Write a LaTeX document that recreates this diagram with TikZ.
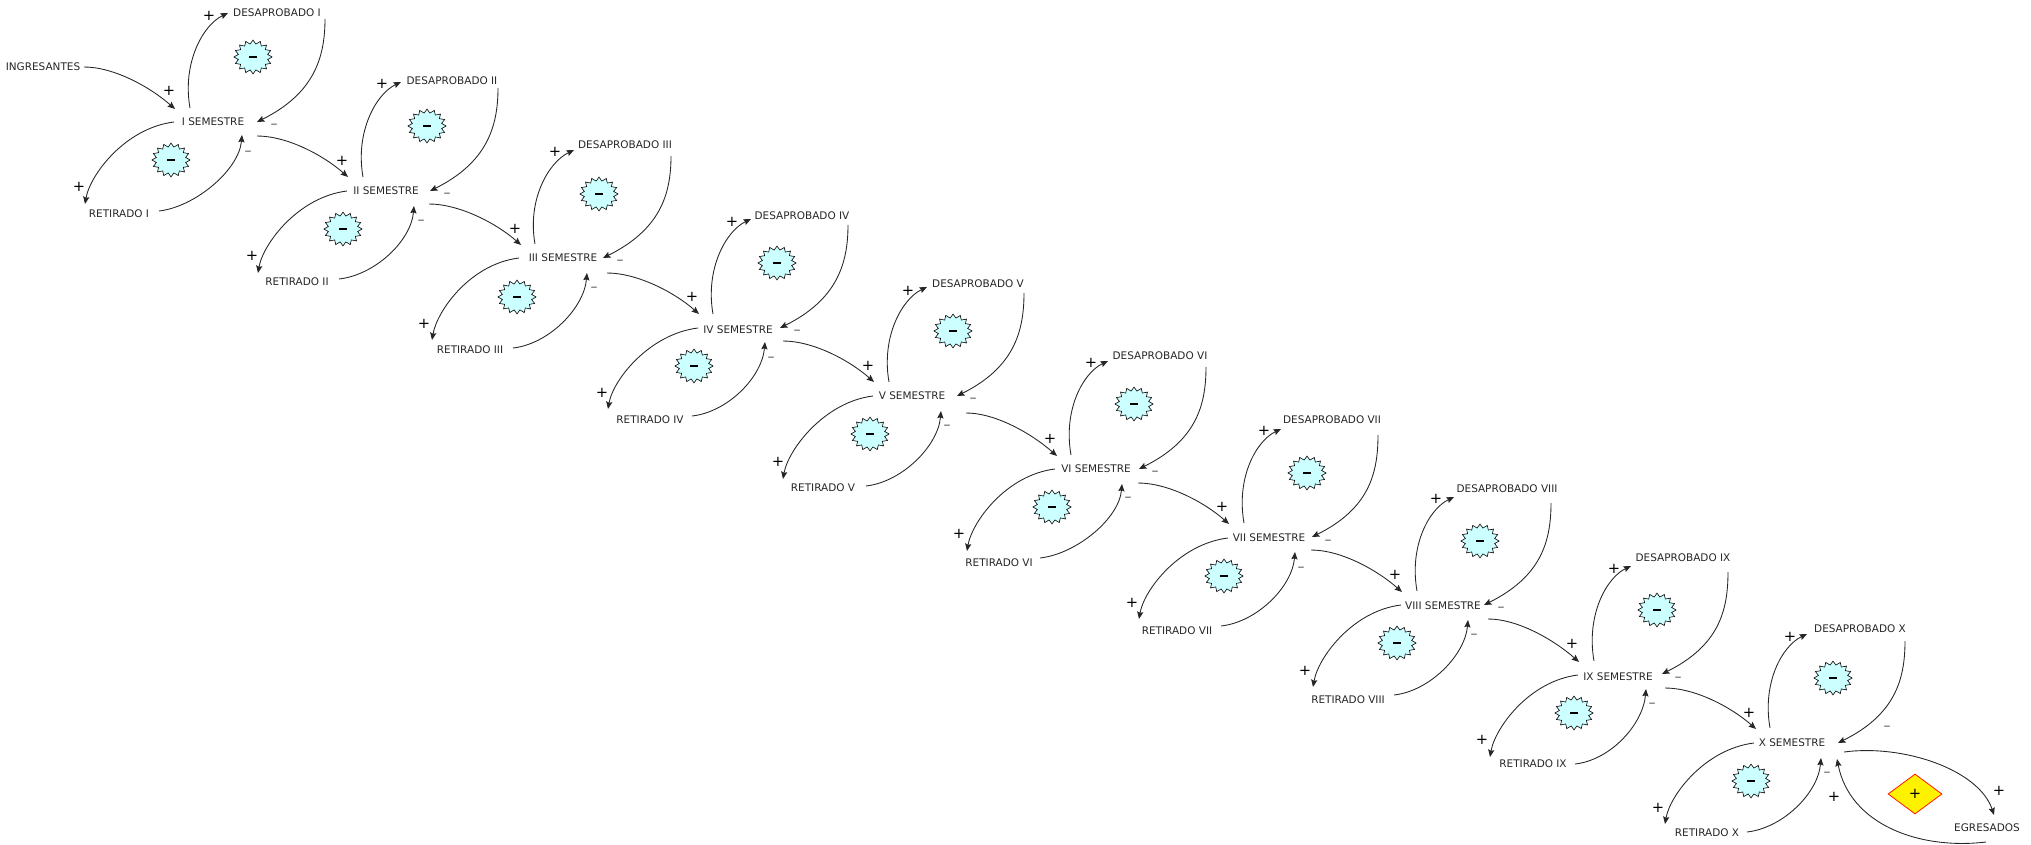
\documentclass[tikz,border=0pt]{standalone}
\usepackage{fontspec}
\setmainfont{DejaVu Sans}
\usetikzlibrary{arrows.meta,shapes.geometric}
\definecolor{starfill}{HTML}{CCFFFF}
\definecolor{inkc}{HTML}{262626}
\definecolor{dimc}{HTML}{555555}
\tikzset{
  lbl/.style={inner sep=0pt,text=inkc,font=\fontsize{7.85pt}{9pt}\selectfont},
  arc/.style={draw=inkc,line width=0.65pt,-{Stealth[length=5.5pt,width=4.6pt,inset=0.8pt]}},
  loopstar/.style={star,star points=16,star point ratio=1.28,minimum size=27.5pt,inner sep=0pt,draw=black,line width=0.45pt,fill=starfill,xscale=1.04,yscale=0.92,transform shape},
  plussign/.style={inner sep=0pt,text=black,font=\fontsize{11pt}{11pt}\selectfont},
  minussign/.style={inner sep=0pt,text=dimc,font=\fontsize{10.5pt}{10.5pt}\selectfont},
  bigdiamond/.style={diamond,aspect=1.35,minimum width=40.5pt,minimum height=30pt,inner sep=0pt,draw=red!80!orange,line width=0.6pt,fill=yellow,font=\fontsize{11pt}{11pt}\selectfont}
}
% #1 index, #2 roman, #3 semester, #4 desaprobado, #5 retirado, #6 star up, #7 star down
\newcommand\mnodes[7]{%
  \node[lbl] (S#1) at (#3) {#2 SEMESTRE};
  \node[lbl] (D#1) at (#4) {DESAPROBADO #2};
  \node[lbl] (R#1) at (#5) {RETIRADO #2};
  \node[loopstar] (A#1) at (#6) {\rule{5.5pt}{1.4pt}};
  \node[loopstar] (B#1) at (#7) {\rule{5.5pt}{1.4pt}};
}
% #1 index, then plus in, plus D, plus R, minus D, minus R
\newcommand\mmarks[6]{%
  \node[plussign] (P#1a) at (#2) {+};
  \node[plussign] (P#1b) at (#3) {+};
  \node[plussign] (P#1c) at (#4) {+};
  \node[minussign] (M#1a) at (#5) {–};
  \node[minussign] (M#1b) at (#6) {–};
}
% #1 index, offsets of the ends of the four arcs
\newcommand\marcs[9]{%
  \draw[arc] ([shift={(#2)}]S#1.center) .. controls +(-8,-45) and +(-25,12) .. ([shift={(#3)}]D#1.center);
  \draw[arc] ([shift={(#4)}]D#1.center) .. controls +(0,40) and +(56,-28) .. ([shift={(#5)}]S#1.center);
  \draw[arc] ([shift={(#6)}]S#1.center) .. controls +(-49,6) and +(5,-29) .. ([shift={(#7)}]R#1.center);
  \draw[arc] ([shift={(#8)}]R#1.center) .. controls +(36,-4) and +(-3,35) .. ([shift={(#9)}]S#1.center);
}
\newcommand\inarc[4]{%
  \draw[arc] ([shift={(#3)}]#1.center) .. controls +(30,0) and +(-25,-22) .. ([shift={(#4)}]#2.center);
}
\begin{document}
\begin{tikzpicture}[x=0.75pt,y=-0.75pt]
\useasboundingbox (0,0) rectangle (2031,845);
\mnodes{1}{I}{213,122}{277,13}{119,214}{253,57}{171,160}
\mnodes{2}{II}{386,191}{452,81}{297,282}{427,126}{343,229}
\mnodes{3}{III}{563,258}{625,145}{470,350}{599,194}{517,297}
\mnodes{4}{IV}{738,330}{802,216}{650,420}{777,263}{694,366}
\mnodes{5}{V}{912,396}{978,284}{823,488}{953,331}{870,434}
\mnodes{6}{VI}{1096,469}{1160,356}{999,563}{1134,404}{1052,507}
\mnodes{7}{VII}{1269,538}{1332,420}{1177,631}{1307,473}{1224,576}
\mnodes{8}{VIII}{1443,606}{1507,489}{1348,700}{1480,541}{1397,643}
\mnodes{9}{IX}{1618,677}{1683,558}{1533,764}{1657,610}{1574,713}
\mnodes{10}{X}{1792,743}{1860,629}{1707,833}{1833,678}{1751,781}
\node[lbl] (ING) at (43,67) {INGRESANTES};
\node[lbl] (EGR) at (1987,828) {EGRESADOS};
\node[bigdiamond] (DIA) at (1915,794) {+};
\mmarks{1}{169,91}{209,16}{79,187}{274,126}{248,153}
\mmarks{2}{342,161}{382,84}{252,256}{447,195}{421,222}
\mmarks{3}{515,229}{555,152}{424,324}{620,262}{594,289}
\mmarks{4}{692,297}{732,222}{602,393}{797,332}{771,359}
\mmarks{5}{868,366}{908,291}{778,462}{973,400}{947,427}
\mmarks{6}{1050,439}{1091,363}{959,534}{1155,473}{1128,499}
\mmarks{7}{1222,507}{1264,431}{1132,603}{1328,542}{1301,569}
\mmarks{8}{1395,575}{1436,499}{1305,671}{1501,609}{1474,636}
\mmarks{9}{1572,644}{1614,569}{1482,740}{1678,679}{1652,705}
\mmarks{10}{1749,713}{1790,637}{1658,808}{1887,728}{1827,774}
\node[plussign] (P11) at (1999,791) {+};
\node[plussign] (P12) at (1834,797) {+};
\marcs{1}{-23,-14}{-49,0}{48,6}{44,0}{-39,0}{-34,-10}{40,-3}{29,13}
\marcs{2}{-23,-14}{-51,1}{46,7}{44,0}{-39,0}{-39,-9}{42,-3}{28,15}
\marcs{3}{-28,-14}{-51,5}{46,11}{40,0}{-44,0}{-38,-10}{43,-2}{24,15}
\marcs{4}{-25,-16}{-51,3}{46,9}{42,-2}{-40,-2}{-42,-11}{42,-4}{27,12}
\marcs{5}{-23,-14}{-51,3}{46,9}{45,0}{-39,0}{-40,-9}{43,-2}{29,15}
\marcs{6}{-25,-14}{-52,5}{46,11}{43,0}{-41,0}{-32,-12}{41,-5}{26,15}
\marcs{7}{-25,-15}{-51,9}{46,15}{43,-1}{-41,0}{-38,-12}{44,-5}{26,14}
\marcs{8}{-26,-15}{-53,8}{44,14}{41,-1}{-42,-1}{-35,-13}{46,-5}{25,14}
\marcs{9}{-24,-16}{-52,8}{45,14}{44,-3}{-40,-2}{-43,-7}{42,0}{28,12}
\marcs{10}{-22,-15}{-53,5}{45,12}{46,0}{-38,0}{-42,-9}{40,-1}{29,15}
\inarc{ING}{S1}{41,0}{-38,-13}
\inarc{S1}{S2}{44,14}{-38,-14}
\inarc{S2}{S3}{43,13}{-42,-13}
\inarc{S3}{S4}{44,15}{-39,-16}
\inarc{S4}{S5}{45,11}{-38,-14}
\inarc{S5}{S6}{54,17}{-39,-13}
\inarc{S6}{S7}{42,14}{-40,-14}
\inarc{S7}{S8}{42,12}{-41,-14}
\inarc{S8}{S9}{45,13}{-39,-15}
\inarc{S9}{S10}{47,11}{-36,-14}
\draw[arc] ([shift={(52,9)}]S10.center) .. controls +(60,-8) and +(-15,-45) .. ([shift={(7,-13)}]EGR.center);
\draw[arc] ([shift={(-1,14)}]EGR.center) .. controls +(-66,8) and +(13,66) .. ([shift={(45,16)}]S10.center);
\end{tikzpicture}
\end{document}
